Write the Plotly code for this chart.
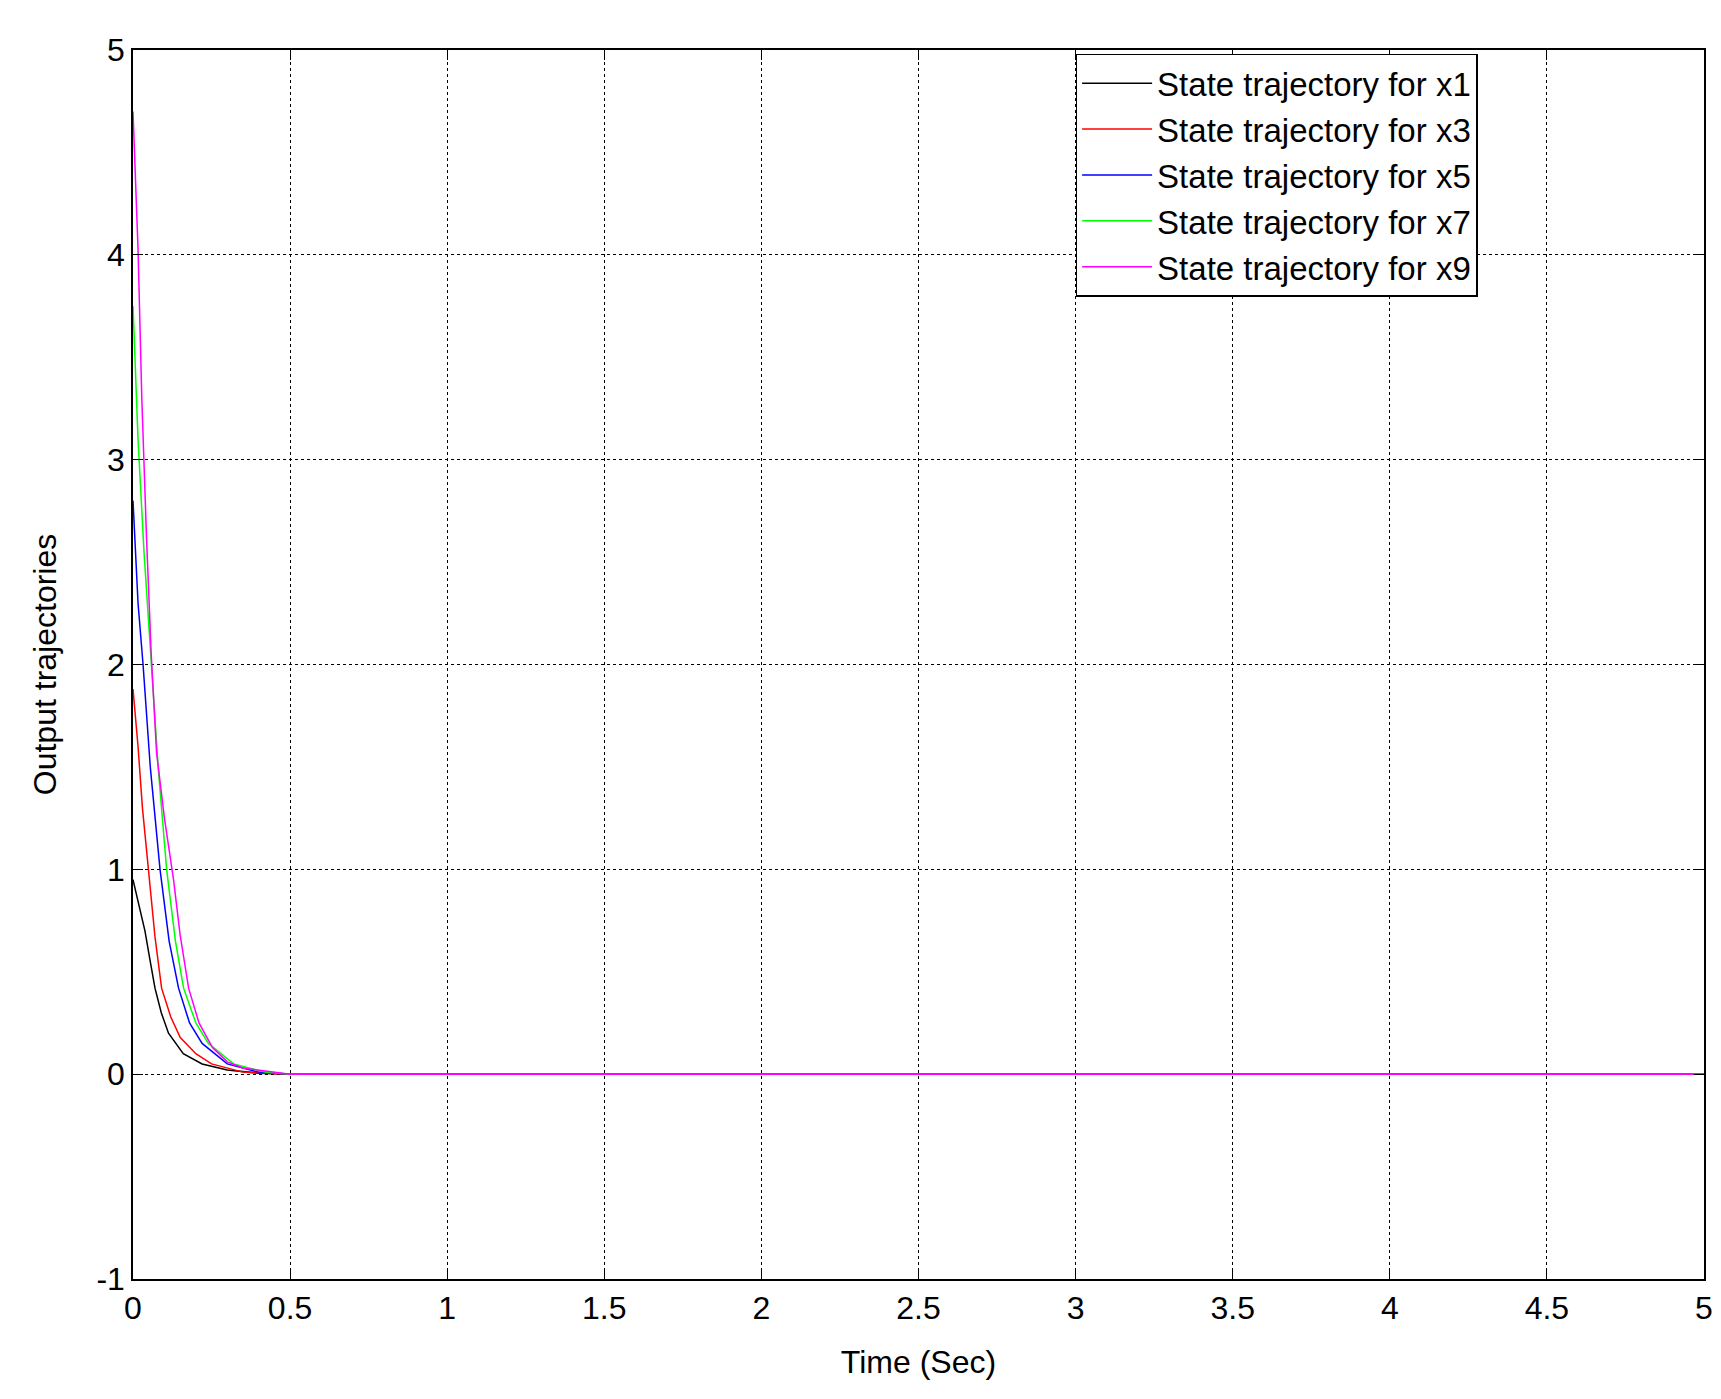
import plotly.graph_objects as go

# time points (s) for each state
t_x1 = [0, 0.008, 0.016, 0.038, 0.055, 0.07, 0.09, 0.113, 0.16, 0.22, 0.3, 0.4, 0.5, 5]
x1 = [0.95, 0.9, 0.85, 0.7, 0.55, 0.42, 0.3, 0.2, 0.1, 0.05, 0.02, 0.005, 0, 0]
t_x3 = [0, 0.008, 0.016, 0.03, 0.048, 0.07, 0.091, 0.12, 0.15, 0.2, 0.25, 0.35, 0.5, 5]
x3 = [1.88, 1.75, 1.6, 1.3, 1.0, 0.67, 0.42, 0.28, 0.18, 0.1, 0.05, 0.01, 0, 0]
t_x5 = [0, 0.008, 0.016, 0.032, 0.055, 0.086, 0.115, 0.145, 0.18, 0.22, 0.3, 0.4, 0.5, 5]
x5 = [2.8, 2.55, 2.3, 2.0, 1.5, 1.0, 0.65, 0.42, 0.25, 0.15, 0.05, 0.01, 0, 0]
t_x7 = [0, 0.008, 0.016, 0.035, 0.059, 0.08, 0.107, 0.135, 0.161, 0.2, 0.24, 0.32, 0.42, 0.5, 5]
x7 = [3.75, 3.45, 3.1, 2.55, 2.0, 1.5, 1.0, 0.65, 0.42, 0.25, 0.15, 0.05, 0.01, 0, 0]
t_x9 = [0, 0.008, 0.016, 0.028, 0.043, 0.058, 0.075, 0.1, 0.129, 0.15, 0.177, 0.21, 0.253, 0.3, 0.35, 0.5, 5]
x9 = [4.7, 4.4, 4.03, 3.3, 2.62, 2.05, 1.57, 1.25, 0.95, 0.68, 0.42, 0.25, 0.13, 0.06, 0.03, 0, 0]

y_ticks = [-1, 0, 1, 2, 3, 4, 5]
y_labels = ["-1", "0", "1", "2", "3", "4", "5"]

series = [
    ("State trajectory for x1", t_x1, x1, "black"),
    ("State trajectory for x3", t_x3, x3, "#ff0000"),
    ("State trajectory for x5", t_x5, x5, "#0000ff"),
    ("State trajectory for x7", t_x7, x7, "#00ff00"),
    ("State trajectory for x9", t_x9, x9, "#ff00ff"),
]

fig = go.Figure()
for name, t, y, c in series:
    fig.add_trace(go.Scatter(x=t, y=y, mode="lines", name=name,
                             line=dict(color=c, width=1.5)))

axis = dict(showline=True, linecolor="black", linewidth=1.5, mirror="ticks",
            ticks="inside", ticklen=10, tickcolor="black",
            showgrid=True, gridcolor="black", griddash="dot", gridwidth=1,
            zeroline=False, tickfont=dict(size=32, color="black"))

fig.update_layout(
    width=1721, height=1399,
    paper_bgcolor="white", plot_bgcolor="white",
    font=dict(family="Liberation Sans, Arial", color="black"),
    margin=dict(l=125, r=25, t=42, b=128),
    xaxis=dict(axis, range=[0, 5], dtick=0.5,
               title=dict(text="Time (Sec)", font=dict(size=32), standoff=25)),
    yaxis=dict(axis, range=[-1, 5], tickvals=y_ticks, ticktext=y_labels,
               title=dict(text="Output trajectories", font=dict(size=32), standoff=30)),
    legend=dict(x=0.6, y=0.997, xanchor="left", yanchor="top",
                bgcolor="white", bordercolor="black", borderwidth=1.5,
                font=dict(size=33), tracegroupgap=0, itemwidth=70),
    showlegend=True,
)

fig.write_html("out.html")
